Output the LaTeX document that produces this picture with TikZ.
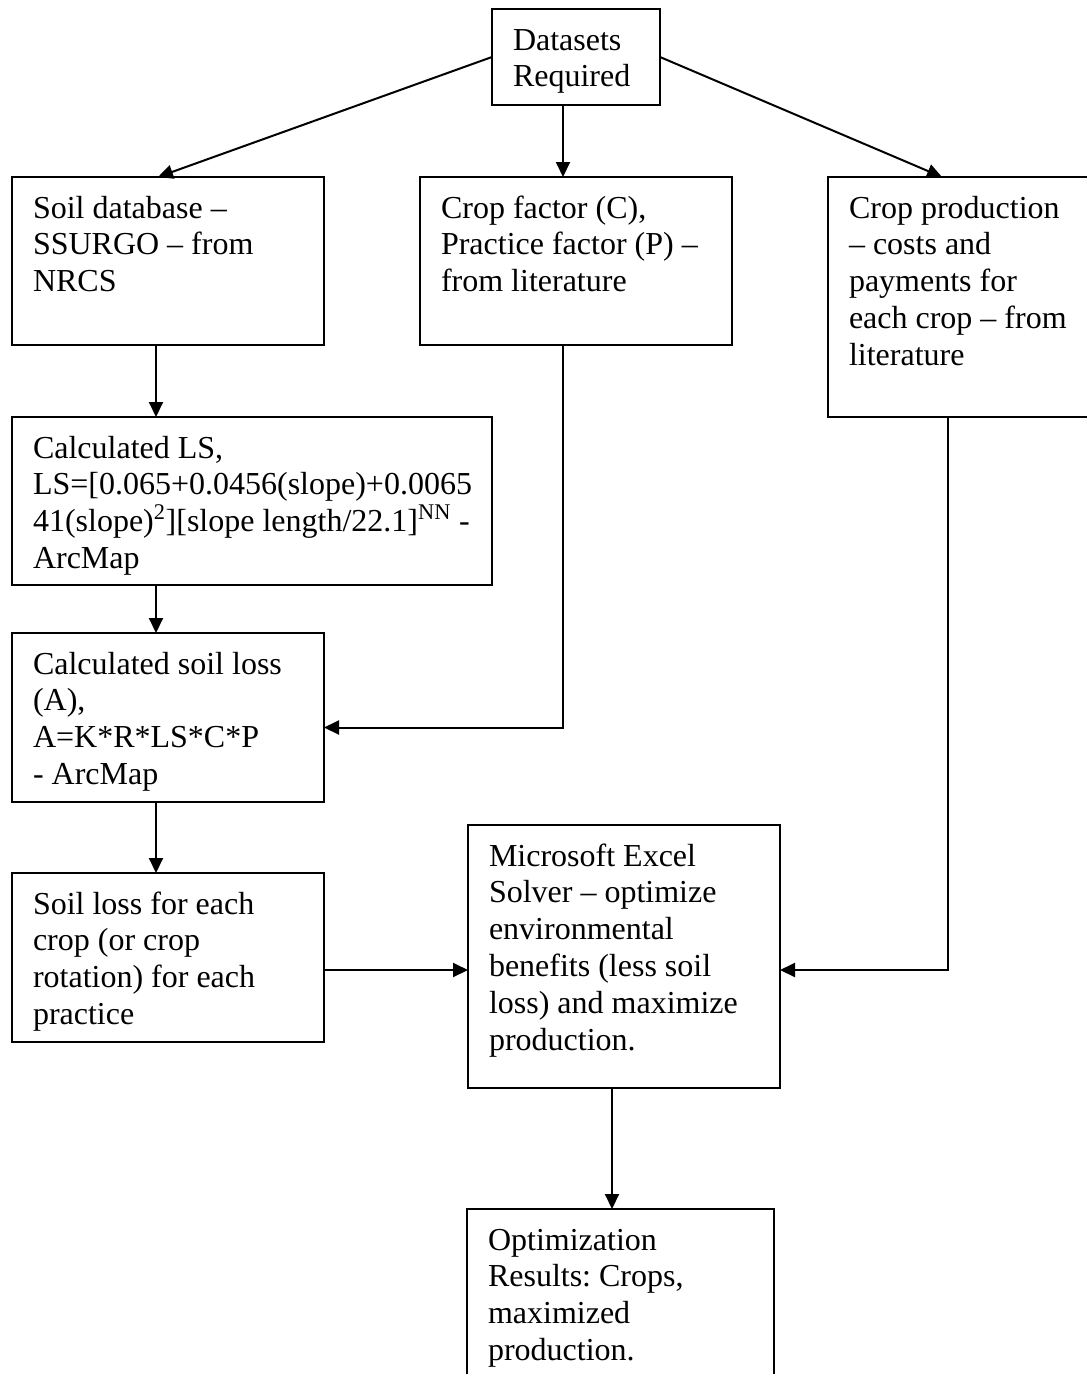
\documentclass[tikz,border=0pt]{standalone}
\usepackage{fontspec}
\setmainfont{Liberation Serif}
\usetikzlibrary{arrows.meta}
\frenchspacing

\newlength\px
\setlength\px{0.75pt}
% блок: ширина, высота (в px), текст
\newcommand\boxtext[3]{\parbox[t][#2\px][t]{\dimexpr#1\px-42\px\relax}{\raggedright\rule{0pt}{41\px}#3}}

\begin{document}
\begin{tikzpicture}[>={Triangle[length=11.25pt, width=10.5pt]}, x=0.75pt, y=-0.75pt, line width=1.5pt,
		flowbox/.style={draw, anchor=north west, inner xsep=15.75pt, inner ysep=0pt, outer sep=0pt,
			font=\fontsize{24pt}{27.6pt}\selectfont}]

		\clip (0,0) rectangle (1087,1374);

		\node[flowbox] (data) at (492,9) {\boxtext{168}{96}{Datasets\\Required}};

		\node[flowbox] (soil) at (12,177) {\boxtext{312}{168}{Soil database –\\SSURGO – from\\NRCS}};
		\node[flowbox] (crop) at (420,177) {\boxtext{312}{168}{Crop factor (C),\\Practice factor (P) –\\from literature}};
		\node[flowbox] (prod) at (828,177) {\boxtext{312}{240}{Crop production\\– costs and\\payments for\\each crop – from\\literature}};

		\node[flowbox] (ls) at (12,417) {\boxtext{480}{168}{Calculated LS,\\LS=[0.065+0.0456(slope)+0.0065\\41(slope)\textsuperscript{2}][slope length/22.1]\textsuperscript{NN} -\\ArcMap}};
		\node[flowbox] (loss) at (12,633) {\boxtext{312}{169}{Calculated soil loss\\(A),\\A=K*R*LS*C*P\\- ArcMap}};
		\node[flowbox] (each) at (12,873) {\boxtext{312}{169}{Soil loss for each\\crop (or crop\\rotation) for each\\practice}};

		\node[flowbox] (solver) at (468,825) {\boxtext{312}{263}{Microsoft Excel\\Solver – optimize\\environmental\\benefits (less soil\\loss) and maximize\\production.}};
		\node[flowbox] (opt) at (467,1209) {\boxtext{307}{250}{Optimization\\Results: Crops,\\maximized\\production.}};

		% линии-направляющие для стрелок
		\coordinate (spine) at (156,0);
		\coordinate (mid) at (563,0);
		\coordinate (rail) at (948,0);
		\coordinate (stem) at (612,0);
		\coordinate (row) at (0,970);

		\draw[->] (data.west) -- ([xshift=-7.5pt]soil.north);
		\draw[->] (data.south -| mid) -- (crop.north -| mid);
		\draw[->] (data.east) -- ([xshift=-31.5pt]prod.north);

		\draw[->] (soil.south -| spine) -- (ls.north -| spine);
		\draw[->] (ls.south -| spine) -- (loss.north -| spine);
		\draw[->] (crop.south -| mid) |- ([yshift=-7.5pt]loss.east);
		\draw[->] (loss.south -| spine) -- (each.north -| spine);

		\draw[->] (each.east |- row) -- (solver.west |- row);
		\draw[->] (prod.south -| rail) |- (solver.east |- row);
		\draw[->] (solver.south -| stem) -- (opt.north -| stem);
	\end{tikzpicture}
\end{document}
